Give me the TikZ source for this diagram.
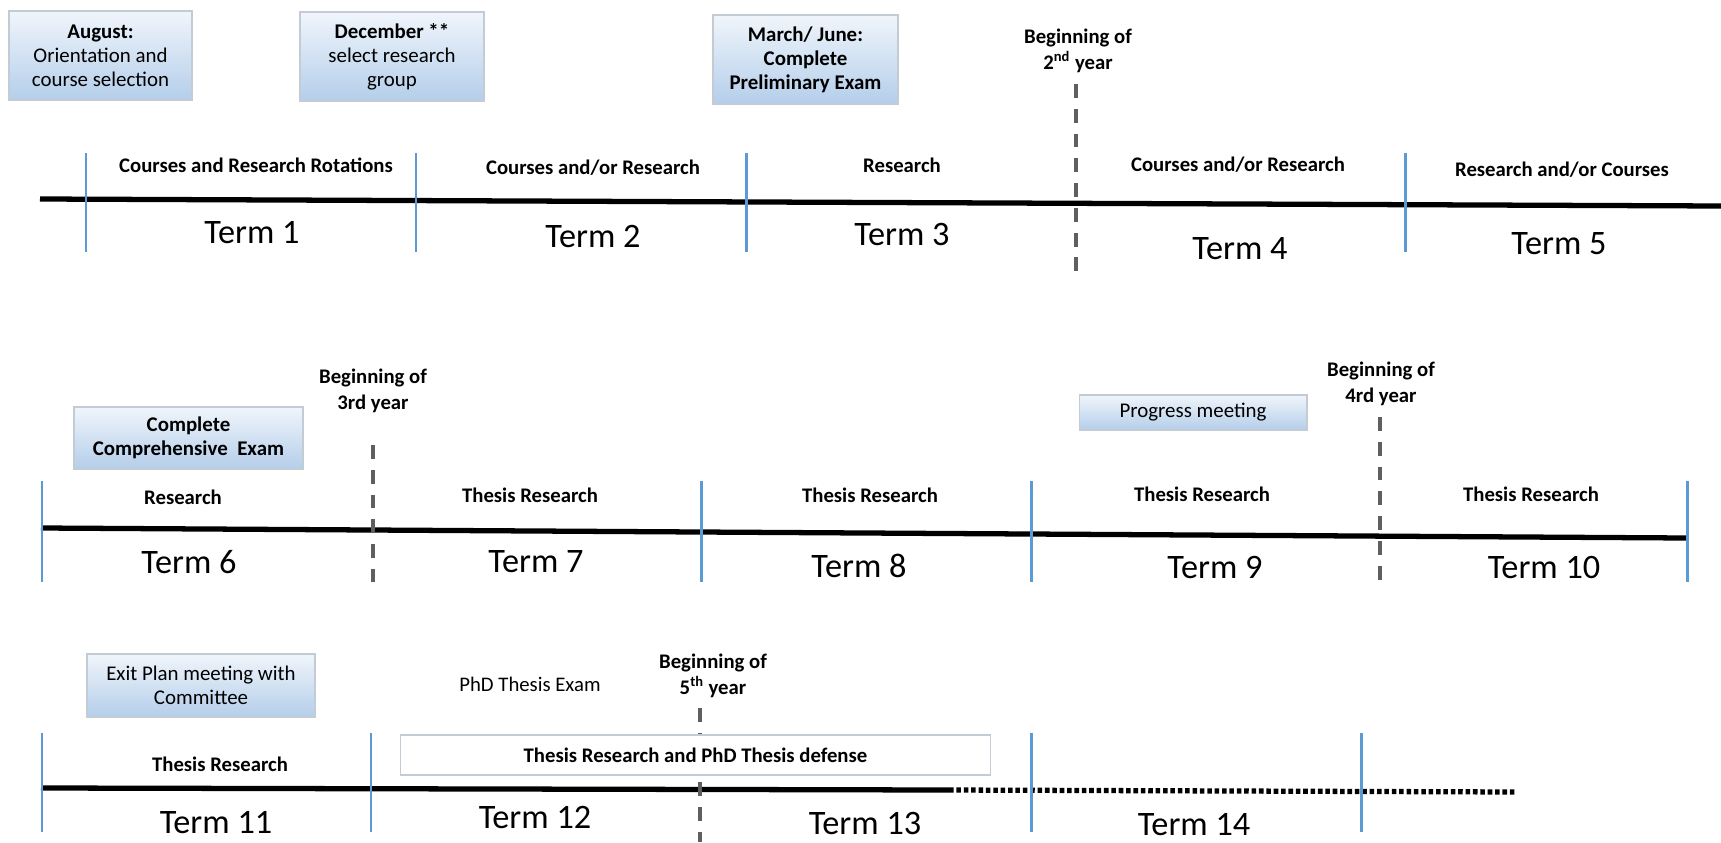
\documentclass[tikz,border=0pt]{standalone}
\usepackage{fontspec}
\setmainfont{Carlito}
\definecolor{tickblue}{RGB}{91,155,213}
\definecolor{dashgray}{RGB}{95,95,95}
\definecolor{boxtop}{RGB}{240,245,251}
\definecolor{boxbot}{RGB}{180,206,234}
\definecolor{boxedge}{RGB}{195,203,212}
\tikzset{
  lbl/.style={font=\fontsize{11.8}{14.5}\selectfont\bfseries, inner sep=0, align=center},
  plain/.style={font=\fontsize{11.8}{14}\selectfont, inner sep=0, align=center},
  term/.style={font=\fontsize{19.5}{22}\selectfont, inner sep=0},
  gbox/.style={draw=boxedge, line width=0.6pt, top color=boxtop, bottom color=boxbot,
    align=center, inner sep=0, font=\fontsize{11.9}{13.6}\selectfont},
  wbox/.style={draw=boxedge, line width=0.6pt, fill=white, inner sep=0,
    font=\fontsize{11.8}{13.6}\selectfont\bfseries},
  tickline/.style={draw=tickblue, line width=1.7pt},
  yearline/.style={draw=dashgray, line width=2.3pt, dash pattern=on 7.9pt off 6.2pt},
  mainline/.style={draw=black, line width=3pt},
  dotline/.style={draw=black, line width=3pt, dash pattern=on 2.6pt off 1.6pt},
}
\begin{document}
\begin{tikzpicture}[x=0.02cm, y=-0.02cm]
\useasboundingbox (0,0) rectangle (1721,842);

% ---------- Row 1 ----------
\coordinate (r1s) at (40,199);
\coordinate (r1e) at (1721,206);
\draw[mainline] (r1s) -- (r1e);
\foreach \x/\n in {86/a,416/b,746/c,1405/d}{
  \coordinate (t1\n top) at (\x,153);
  \coordinate (t1\n bot) at (\x,252);
  \draw[tickline] (t1\n top) -- (t1\n bot);
}
\coordinate (y2top) at (1076,84);
\coordinate (y2bot) at (1076,280);
\draw[yearline] (y2top) -- (y2bot);
\node[lbl] (y2lbl) at (1078,51) {Beginning of\\2\textsuperscript{nd} year};

\node[gbox, minimum width=3.66cm, minimum height=1.78cm] (aug) at (100.5,55.5)
  {\textbf{August:}\\Orientation and\\course selection};
\node[gbox, minimum width=3.68cm, minimum height=1.78cm] (dec) at (392,56.5)
  {\textbf{December **}\\select research\\group};
\node[gbox, minimum width=3.7cm, minimum height=1.78cm, font=\fontsize{11.9}{13.6}\selectfont\bfseries] (mar) at (805.5,59.5)
  {March/ June:\\Complete\\Preliminary Exam};

\node[lbl] (l1) at (256,165) {Courses and Research Rotations};
\node[lbl] (l2) at (593,168) {Courses and/or Research};
\node[lbl] (l3) at (902,165) {Research};
\node[lbl] (l4) at (1238,165) {Courses and/or Research};
\node[lbl] (l5) at (1562,170) {Research and/or Courses};

\node[term] (term1) at (252,233) {Term 1};
\node[term] (term2) at (593,236) {Term 2};
\node[term] (term3) at (902,234) {Term 3};
\node[term] (term4) at (1240,249) {Term 4};
\node[term] (term5) at (1559,244) {Term 5};

% ---------- Row 2 ----------
\coordinate (r2s) at (41,528);
\coordinate (r2e) at (1687,538);
\draw[mainline] (r2s) -- (r2e);
\foreach \x/\n in {42/a,701/b,1031/c,1687/d}{
  \coordinate (t2\n top) at (\x,481);
  \coordinate (t2\n bot) at (\x,582);
  \draw[tickline] (t2\n top) -- (t2\n bot);
}
\coordinate (y3top) at (373,445);
\coordinate (y3bot) at (373,582);
\draw[yearline] (y3top) -- (y3bot);
\node[lbl] (y3lbl) at (373,391) {Beginning of\\3rd year};
\coordinate (y4top) at (1380,417);
\coordinate (y4bot) at (1380,582);
\draw[yearline] (y4top) -- (y4bot);
\node[lbl] (y4lbl) at (1381,384) {Beginning of\\4rd year};

\node[gbox, minimum width=4.58cm, minimum height=1.24cm, font=\fontsize{11.9}{13.6}\selectfont\bfseries] (comp) at (188.5,438)
  {Complete\\Comprehensive\ \ Exam};
\node[gbox, minimum width=4.56cm, minimum height=0.7cm] (prog) at (1193,412.5)
  {Progress meeting};

\node[lbl] (l6) at (183,497) {Research};
\node[lbl] (l7) at (530,495) {Thesis Research};
\node[lbl] (l8) at (870,495) {Thesis Research};
\node[lbl] (l9) at (1202,494) {Thesis Research};
\node[lbl] (l10) at (1531,494) {Thesis Research};

\node[term] (term6) at (189,562) {Term 6};
\node[term] (term7) at (536,562) {Term 7};
\node[term] (term8) at (859,566) {Term 8};
\node[term] (term9) at (1215,567) {Term 9};
\node[term] (term10) at (1544,567) {Term 10};

% ---------- Row 3 ----------
\coordinate (r3s) at (41,788);
\coordinate (r3m) at (949,790);
\coordinate (r3e) at (1517,792);
\draw[mainline] (r3s) -- (r3m);
\draw[dotline] (r3m) -- (r3e);
\foreach \x/\n in {42/a,371/b,1031/c,1361/d}{
  \coordinate (t3\n top) at (\x,733);
  \coordinate (t3\n bot) at (\x,832);
  \draw[tickline] (t3\n top) -- (t3\n bot);
}
\coordinate (y5top) at (700,708);
\coordinate (y5bot) at (700,842);
\draw[yearline] (y5top) -- (y5bot);
\node[lbl] (y5lbl) at (713,676) {Beginning of\\5\textsuperscript{th} year};

\node[gbox, minimum width=4.56cm, minimum height=1.26cm] (exit) at (201,685.5)
  {Exit Plan meeting with\\Committee};
\node[plain] (phdexam) at (530,684) {PhD Thesis Exam};
\node[wbox, minimum width=11.82cm, minimum height=0.8cm] (defense) at (695.5,755)
  {Thesis Research and PhD Thesis defense};

\node[lbl] (l11) at (220,764) {Thesis Research};

\node[term] (term11) at (216,823) {Term 11};
\node[term] (term12) at (535,817) {Term 12};
\node[term] (term13) at (865,823) {Term 13};
\node[term] (term14) at (1194,825) {Term 14};
\end{tikzpicture}
\end{document}
